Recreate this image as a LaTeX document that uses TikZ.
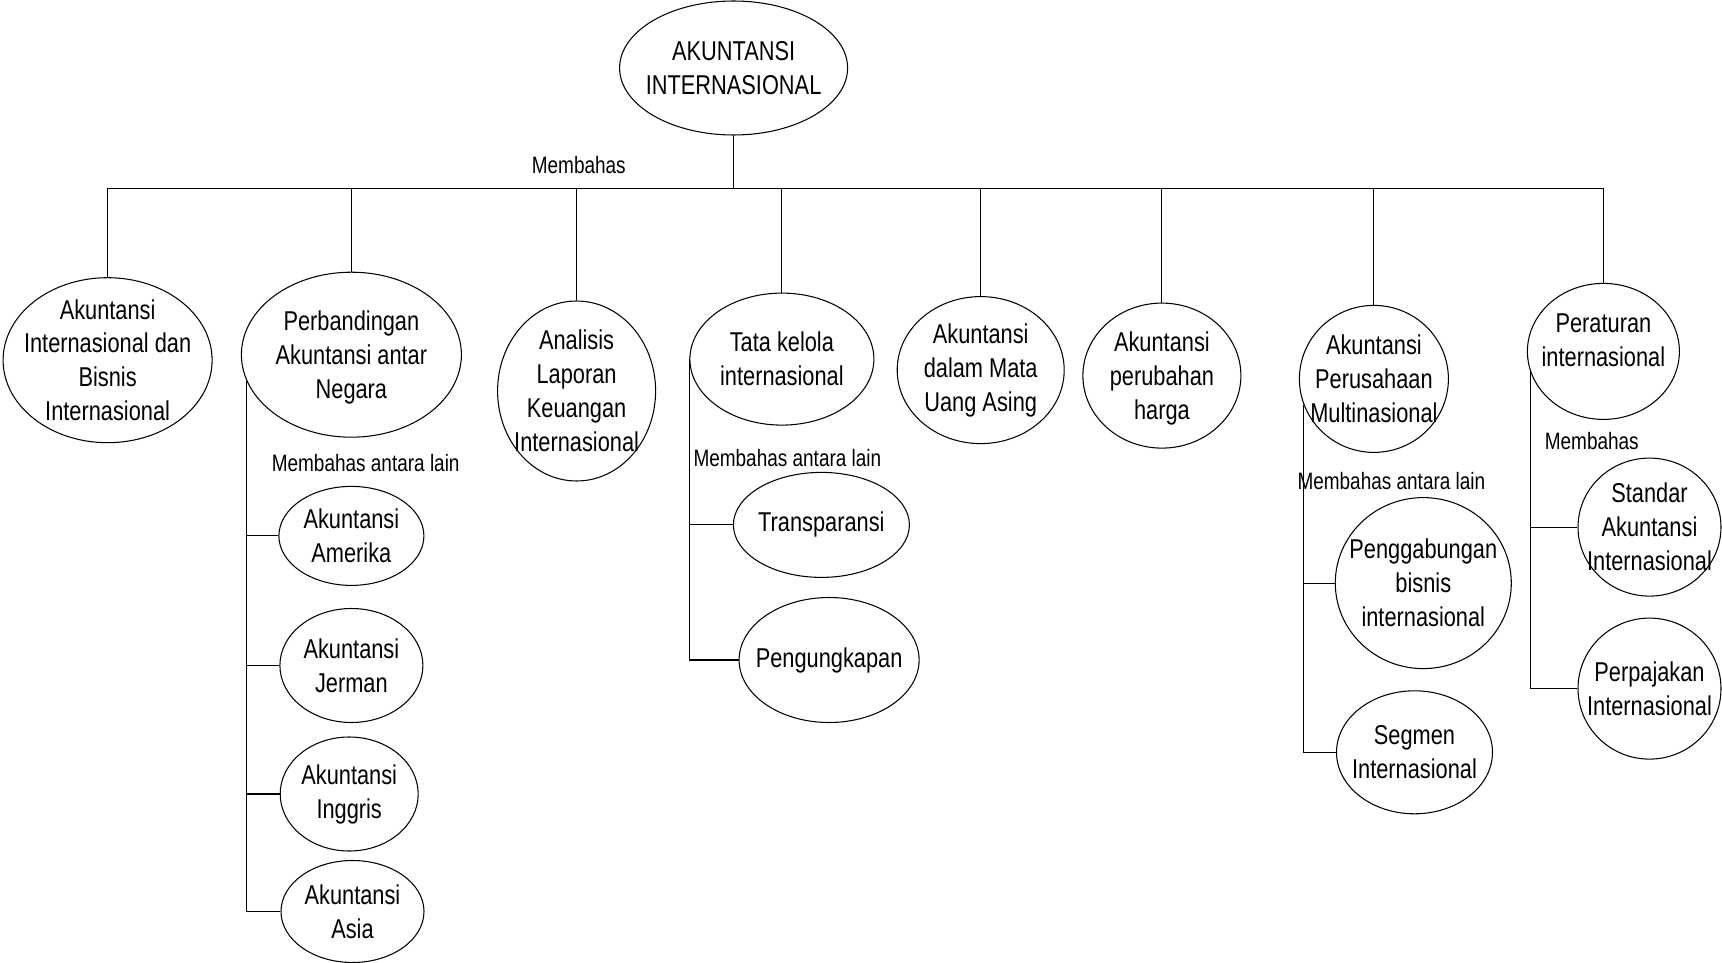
\documentclass[tikz,border=0pt]{standalone}
\usepackage{fontspec}
\setmainfont[FakeStretch=0.8]{Liberation Sans}
\usetikzlibrary{shapes.geometric}

\def\pxu{0.02cm} % one pixel of the source picture

\tikzset{
  bubtext/.style={align=center, inner sep=0pt, font=\fontsize{15.5}{19.3}\selectfont},
  bubble/.style 2 args={draw, ellipse, inner sep=0pt,
    minimum width=#1*\pxu, minimum height=#2*\pxu},
  say/.style={label={[bubtext]center:{#1}}},
  sayat/.style 2 args={label={[bubtext, yshift=#1]center:{#2}}},
  note/.style={inner sep=0pt, font=\fontsize{13.5}{16}\selectfont},
}

\begin{document}
\begin{tikzpicture}[x=0.02cm, y=-0.02cm, line width=0.6pt]

  \useasboundingbox (0,0) rectangle (1722,963);

  % Root
  \node[bubble={228}{134}, say={AKUNTANSI\\INTERNASIONAL}] (root) at (733.6,68) {};
  \coordinate (bus) at (733.6,188.9);
  \node[note] (mbhs) at (578.8,164.7) {Membahas};

  % Level 1: topics
  \node[bubble={209}{165}, say={Akuntansi\\Internasional dan\\Bisnis\\Internasional}] (intl) at (107.6,360.2) {};
  \node[bubble={220}{165}, sayat={-0.06cm}{Perbandingan\\Akuntansi antar\\Negara}] (banding) at (351.4,354.7) {};
  \node[bubble={158}{180}, say={Analisis\\Laporan\\Keuangan\\Internasional}] (analisis) at (576.6,391) {};
  \node[bubble={184}{132}, say={Tata kelola\\internasional}] (tata) at (781.9,359.1) {};
  \node[bubble={167}{147}, say={Akuntansi\\dalam Mata\\Uang Asing}] (valas) at (980.7,370.1) {};
  \node[bubble={158}{145}, sayat={-0.06cm}{Akuntansi\\perubahan\\harga}] (harga) at (1161.9,375.6) {};
  \node[bubble={149}{147}, say={Akuntansi\\Perusahaan\\Multinasional}] (multi) at (1373.9,378.9) {};
  \node[bubble={152}{136}, sayat={0.22cm}{Peraturan\\internasional}] (aturan) at (1603.4,351.4) {};

  \draw (root.south) -- (bus);
  \foreach \kid in {intl,banding,analisis,tata,valas,harga,multi,aturan}
    \draw (bus) -| (\kid.north);

  % Perbandingan: countries
  \node[note] (lbbanding) at (365.7,463.4) {Membahas antara lain};
  \node[bubble={145}{99}, say={Akuntansi\\Amerika}] (amerika) at (351.4,535.9) {};
  \node[bubble={143}{114}, say={Akuntansi\\Jerman}] (jerman) at (351.4,665.5) {};
  \node[bubble={138}{114}, say={Akuntansi\\Inggris}] (inggris) at (349.2,794) {};
  \node[bubble={143}{102}, say={Akuntansi\\Asia}] (asia) at (352.5,911.5) {};
  \foreach \kid in {amerika,jerman,inggris,asia}
    \draw (banding.194) |- (\kid.west);

  % Tata kelola
  \node[note] (lbtata) at (787.4,458) {Membahas antara lain};
  \node[bubble={176}{105}, say={Transparansi}] (transp) at (821.4,524.9) {};
  \node[bubble={180}{125}, say={Pengungkapan}] (ungkap) at (829.1,660) {};
  \foreach \kid in {transp,ungkap}
    \draw (tata.west) |- (\kid.west);

  % Perusahaan multinasional
  \node[note] (lbmulti) at (1391.4,481) {Membahas antara lain};
  \node[bubble={176}{171}, say={Penggabungan\\bisnis\\internasional}] (gabung) at (1423.3,583.1) {};
  \node[bubble={156}{123}, say={Segmen\\Internasional}] (segmen) at (1414.5,752.3) {};
  \foreach \kid in {gabung,segmen}
    \draw (multi.200) |- (\kid.west);

  % Peraturan
  \node[note] (lbaturan) at (1591.8,441.5) {Membahas};
  \node[bubble={143}{138}, say={Standar\\Akuntansi\\Internasional}] (standar) at (1649.5,527.1) {};
  \node[bubble={143}{141}, say={Perpajakan\\Internasional}] (pajak) at (1649.5,688.6) {};
  \foreach \kid in {standar,pajak}
    \draw (aturan.195) |- (\kid.west);

\end{tikzpicture}
\end{document}
